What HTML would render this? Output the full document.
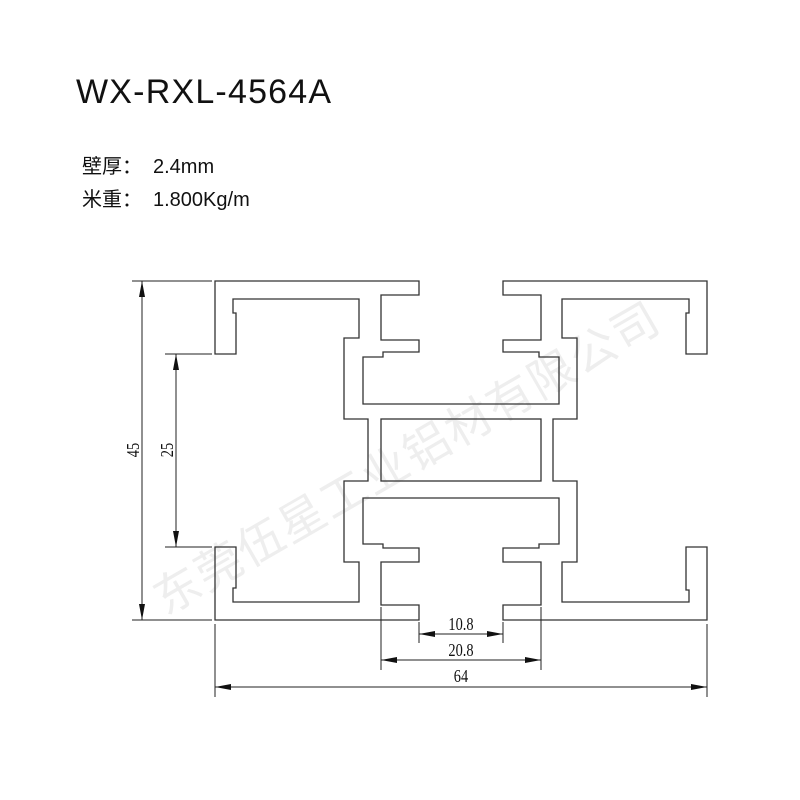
<!DOCTYPE html>
<html><head><meta charset="utf-8"><style>
html,body{margin:0;padding:0;background:#fff;}
body{width:800px;height:800px;position:relative;overflow:hidden;}
.t{position:absolute;white-space:nowrap;font-family:"Liberation Sans","Noto Sans CJK SC",sans-serif;color:#111;line-height:24px;}
.k{display:inline-block;width:71px;}
</style></head><body>
<div class="t" style="left:76px;top:72px;font-size:34px;line-height:40px;letter-spacing:1.2px;">WX-RXL-4564A</div>
<div class="t" style="left:82px;top:155px;font-size:20px;"><span class="k">壁厚：</span>2.4mm</div>
<div class="t" style="left:82px;top:188px;font-size:20px;"><span class="k">米重：</span>1.800Kg/m</div>
<svg width="800" height="800" style="position:absolute;left:0;top:0" xmlns="http://www.w3.org/2000/svg">
<defs>
<marker id="a" viewBox="0 0 16 6" refX="16" refY="3" markerWidth="16" markerHeight="6" markerUnits="userSpaceOnUse" orient="auto-start-reverse"><path d="M0,0L16,3L0,6z" fill="#111"/></marker>
</defs>
<text x="415" y="472" transform="rotate(-30 415 472)" text-anchor="middle" font-family="Noto Sans CJK SC, sans-serif" font-size="46" fill="#eeeeee" letter-spacing="2">东莞伍星工业铝材有限公司</text>
<g fill="none" stroke="#333" stroke-width="1.3">
<path d="M215,281 L419,281 L419,295 L381,295 L381,340 L419,340 L419,352 L383,352 L383,357 L363,357 L363,404 L559,404 L559,357 L539,357 L539,352 L503,352 L503,340 L541,340 L541,295 L503,295 L503,281 L707,281 L707,354 L686,354 L686,313 L689,313 L689,299 L562,299 L562,338 L577,338 L577,419 L553,419 L553,481 L577,481 L577,562 L562,562 L562,602 L689,602 L689,590 L686,590 L686,547 L707,547 L707,620 L503,620 L503,605 L541,605 L541,562 L503,562 L503,548 L539,548 L539,544 L559,544 L559,498 L363,498 L363,544 L383,544 L383,548 L419,548 L419,562 L381,562 L381,605 L419,605 L419,620 L215,620 L215,547 L236,547 L236,588 L233,588 L233,602 L359,602 L359,562 L344,562 L344,481 L368,481 L368,419 L344,419 L344,338 L359,338 L359,299 L233,299 L233,313 L236,313 L236,354 L215,354 Z"/>
<rect x="381" y="419" width="160" height="62"/>
</g>
<g stroke="#222" stroke-width="1" fill="none">
<line x1="132" y1="281" x2="212" y2="281"/>
<line x1="132" y1="620" x2="212" y2="620"/>
<line x1="142" y1="281" x2="142" y2="620" marker-start="url(#a)" marker-end="url(#a)"/>
<line x1="165" y1="354" x2="212" y2="354"/>
<line x1="165" y1="547" x2="212" y2="547"/>
<line x1="176" y1="354" x2="176" y2="547" marker-start="url(#a)" marker-end="url(#a)"/>
<line x1="419" y1="622" x2="419" y2="643"/>
<line x1="503" y1="622" x2="503" y2="643"/>
<line x1="419" y1="634" x2="503" y2="634" marker-start="url(#a)" marker-end="url(#a)"/>
<line x1="381" y1="607" x2="381" y2="670"/>
<line x1="541" y1="607" x2="541" y2="670"/>
<line x1="381" y1="660" x2="541" y2="660" marker-start="url(#a)" marker-end="url(#a)"/>
<line x1="215" y1="624" x2="215" y2="697"/>
<line x1="707" y1="624" x2="707" y2="697"/>
<line x1="215" y1="687" x2="707" y2="687" marker-start="url(#a)" marker-end="url(#a)"/>
</g>
<g font-family="Liberation Serif, serif" font-size="18" fill="#111" text-anchor="middle">
<text transform="translate(461,630) scale(0.8,1)">10.8</text>
<text transform="translate(461,656) scale(0.8,1)">20.8</text>
<text transform="translate(461,682) scale(0.8,1)">64</text>
<text transform="translate(139,450) rotate(-90) scale(0.8,1)">45</text>
<text transform="translate(173,450) rotate(-90) scale(0.8,1)">25</text>
</g>
</svg>
</body></html>
